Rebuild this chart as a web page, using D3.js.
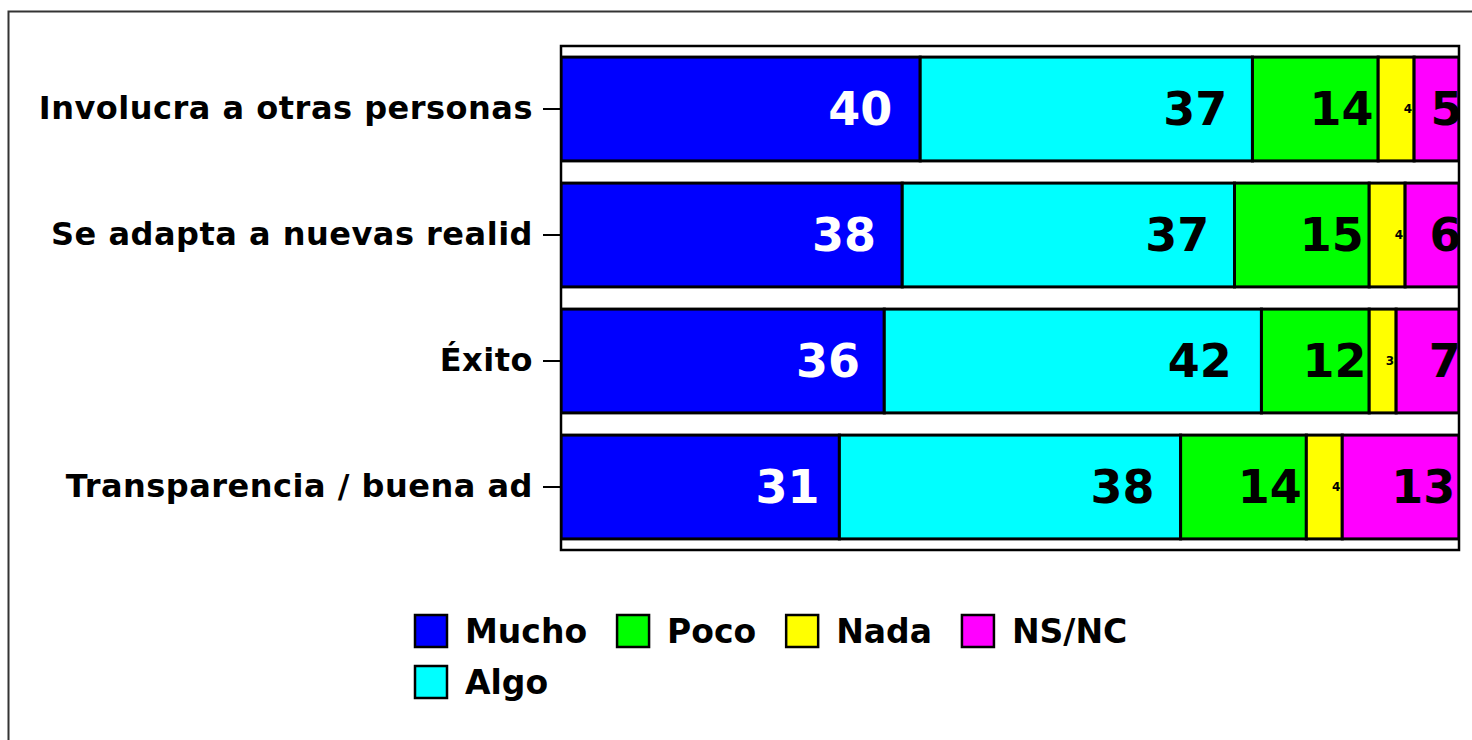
<!DOCTYPE html>
<html>
<head>
<meta charset="utf-8">
<script src="https://cdn.jsdelivr.net/npm/d3@7"></script>
<style>
  html, body { margin: 0; padding: 0; background: #fff; }
  svg { display: block; }
  text { font-family: "DejaVu Sans", Verdana, sans-serif; font-weight: bold; }
</style>
</head>
<body>
<svg id="chart" width="1472" height="740"></svg>
<script>
const categories = [
  "Involucra a otras personas",
  "Se adapta a nuevas realid",
  "Éxito",
  "Transparencia / buena ad",
];
const seriesNames = ["Mucho", "Algo", "Poco", "Nada", "NS/NC"];
const mucho = [40, 38, 36, 31];
const algo = [37, 37, 42, 38];
const poco = [14, 15, 12, 14];
const nada = [4, 4, 3, 4];
const nsnc = [5, 6, 7, 13];
const seriesColors = ["#0000ff", "#00ffff", "#00ff00", "#ffff00", "#ff00ff"];
const legendOrder = ["Mucho", "Poco", "Nada", "NS/NC", "Algo"];

const values = [mucho, algo, poco, nada, nsnc];
const rows = categories.map((c, i) => {
  const r = { category: c };
  seriesNames.forEach((s, j) => (r[s] = values[j][i]));
  return r;
});

const svg = d3.select("#chart");
const margin = { top: 46, left: 561, right: 13, bottom: 190 };
const width = 1472;
const height = 740;

// outer frame, runs off the right and bottom edges
svg
  .append("rect")
  .attr("x", 8.5)
  .attr("y", 11.5)
  .attr("width", width + 20)
  .attr("height", height + 20)
  .attr("fill", "none")
  .attr("stroke", "#333")
  .attr("stroke-width", 2);

const x = d3
  .scaleLinear()
  .domain([0, 100])
  .range([margin.left, width - margin.right]);

const y = d3
  .scaleBand()
  .domain(categories)
  .range([margin.top, height - margin.bottom])
  .paddingInner(0.176)
  .paddingOuter(0.088);

const stack = d3.stack().keys(seriesNames)(rows);
const color = d3.scaleOrdinal().domain(seriesNames).range(seriesColors);

svg
  .append("clipPath")
  .attr("id", "plot-clip")
  .append("rect")
  .attr("x", x(0))
  .attr("y", margin.top)
  .attr("width", x(100) - x(0))
  .attr("height", height - margin.bottom - margin.top);

const plot = svg.append("g").attr("clip-path", "url(#plot-clip)");

const layers = plot
  .selectAll("g.layer")
  .data(stack)
  .join("g")
  .attr("class", "layer")
  .attr("fill", (d) => color(d.key));

layers
  .selectAll("rect")
  .data((d) => d)
  .join("rect")
  .attr("x", (d) => x(d[0]))
  .attr("y", (d) => y(d.data.category))
  .attr("width", (d) => x(d[1]) - x(d[0]))
  .attr("height", y.bandwidth())
  .attr("stroke", "#000")
  .attr("stroke-width", 3);

// value labels, right aligned near the end of each segment
layers
  .selectAll("text")
  .data((d) => d.map((p) => ({ p, key: d.key })))
  .join("text")
  .each(function ({ p, key }) {
    const w = x(p[1]) - x(p[0]);
    const small = w < 40;
    d3.select(this)
      .attr("x", small ? x(p[1]) - 2 : x(p[1]) - (0.1 * w - 8))
      .attr("y", y(p.data.category) + y.bandwidth() / 2)
      .attr("text-anchor", "end")
      .attr("dominant-baseline", "central")
      .attr("font-size", small ? 12 : 46)
      .attr("font-weight", small ? "normal" : "bold")
      .attr("fill", key === "Mucho" ? "#fff" : "#000")
      .text(p[1] - p[0]);
  });

// plot frame
svg
  .append("rect")
  .attr("x", x(0))
  .attr("y", margin.top)
  .attr("width", x(100) - x(0))
  .attr("height", height - margin.bottom - margin.top)
  .attr("fill", "none")
  .attr("stroke", "#000")
  .attr("stroke-width", 2.5);

const yAxis = d3.axisLeft(y).tickSize(18).tickPadding(10);
const axisG = svg
  .append("g")
  .attr("transform", `translate(${x(0)},0)`)
  .call(yAxis);
axisG.select(".domain").remove();
axisG.selectAll(".tick line").attr("stroke", "#000").attr("stroke-width", 2);
axisG
  .selectAll(".tick text")
  .attr("font-family", '"DejaVu Sans", Verdana, sans-serif')
  .attr("font-weight", "bold")
  .attr("font-size", 32)
  .attr("letter-spacing", 0.5)
  .attr("fill", "#000");

// legend
const legend = svg.append("g").attr("transform", "translate(414,614)");
let lx = 0;
legendOrder.forEach((name, i) => {
  if (i === 4) lx = 0;
  const row = i < 4 ? 0 : 1;
  const g = legend.append("g").attr("transform", `translate(${lx},${row * 51})`);
  g.append("rect")
    .attr("x", 1)
    .attr("y", 1)
    .attr("width", 32)
    .attr("height", 32)
    .attr("fill", color(name))
    .attr("stroke", "#000")
    .attr("stroke-width", 2.5);
  const t = g
    .append("text")
    .attr("x", 51)
    .attr("y", 17)
    .attr("dominant-baseline", "central")
    .attr("font-size", 33)
    .attr("fill", "#000")
    .text(name);
  lx += 51 + t.node().getComputedTextLength() + 29;
});
</script>
</body>
</html>
